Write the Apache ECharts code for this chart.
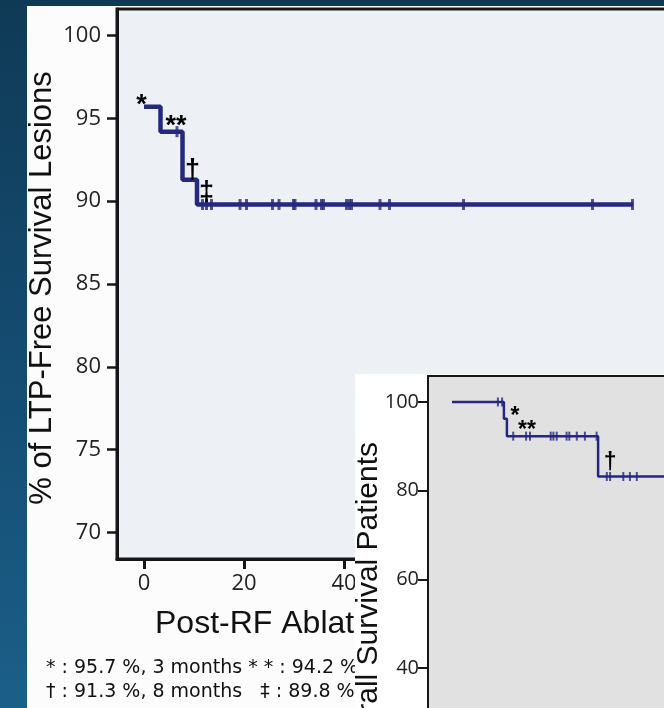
<!DOCTYPE html>
<html><head><meta charset="utf-8">
<script src="https://cdn.jsdelivr.net/npm/echarts@6/dist/echarts.min.js"></script>
<style>
html,body{margin:0;padding:0;width:664px;height:708px;overflow:hidden;background:linear-gradient(to bottom,#0f3a56 0%,#154d73 55%,#1b5f88 100%);}
#panel{position:absolute;left:27px;top:6px;right:0;bottom:0;background:#fcfcfd;}
#main{position:absolute;left:0;top:0;width:664px;height:708px;}
#inset{position:absolute;left:355px;top:374px;width:309px;height:334px;background:#fff;}
</style></head><body>
<div id="panel"></div><div id="main"></div><div id="inset"></div>
<script>
// ---------- Main chart data (months, % LTP-free survival) ----------
const mainSteps = [[0, 95.7], [3.3, 94.2], [7.7, 91.3], [10.6, 89.8], [97.8, 89.8]];
const mainCensored = [[6.6, 94.2], [11.7, 89.8], [12.5, 89.8], [13.5, 89.8], [19.2, 89.8], [20.5, 89.8],
  [25.7, 89.8], [27.0, 89.8], [29.9, 89.8], [30.2, 89.8], [34.4, 89.8], [35.5, 89.8], [35.9, 89.8],
  [40.5, 89.8], [41.1, 89.8], [41.5, 89.8], [47.2, 89.8], [49.1, 89.8], [63.9, 89.8], [89.7, 89.8], [97.7, 89.8]];
const mainNotes = [[-0.5, 96.1, '*'], [6.4, 94.8, '**'], [9.7, 92.05, '†'], [12.5, 90.7, '‡']];
const mainXTicks = [0, 20, 40, 60, 80, 100];
const mainYTicks = [70, 75, 80, 85, 90, 95, 100];
const mainYTitle = '% of LTP-Free Survival Lesions';
const mainXTitle = 'Post-RF Ablation Period (months)';
const footLine1 = '* : 95.7 %, 3 months * * : 94.2 %, 6 months';
const footLine2 = '† : 91.3 %, 8 months   ‡ : 89.8 %, 12 months';

// ---------- Inset chart data (overall survival of patients) ----------
const insetSteps = [[0, 100], [17.3, 96.2], [18.3, 92.3], [48.7, 83.2], [90, 83.2]];
const insetCensored = [[15.3, 100], [16.7, 100], [20.4, 92.3], [24.7, 92.3], [26.0, 92.3], [32.9, 92.3],
  [33.8, 92.3], [34.9, 92.3], [38.2, 92.3], [39.1, 92.3], [41.6, 92.3], [44.3, 92.3], [48.2, 92.3],
  [51.6, 83.2], [52.7, 83.2], [57.1, 83.2], [59.3, 83.2], [61.6, 83.2]];
const insetNotes = [[21, 97.7, '*'], [25, 94.4, '**'], [52.7, 86.9, '†']];
const insetYTicks = [20, 40, 60, 80, 100];
const insetYTitle = '% of Overall Survival Patients';

const NAVY = '#24287f';
const AX = '#161616';
const TICKFONT = '"Open Sans", "Noto Sans", sans-serif';
const FOOTFONT = '"DejaVu Sans", sans-serif';
const TITLEFONT = '"Liberation Sans", Arial, sans-serif';

function noteSeries(notes, size) {
  return {
    type: 'scatter', symbol: 'circle', symbolSize: 1, itemStyle: {color: 'rgba(0,0,0,0)'}, z: 5,
    silent: true,
    data: notes.map(n => ({value: [n[0], n[1]], name: n[2],
      label: {offset: [0, n[2].indexOf('*') >= 0 ? Math.round(size * 0.19) : Math.round(size * 0.12)]}})),
    label: {show: true, position: 'inside', formatter: '{b}', color: '#000', fontSize: size,
      fontWeight: 'bold', fontFamily: TITLEFONT, textBorderWidth: 0, opacity: 1}
  };
}

const main = echarts.init(document.getElementById('main'), null, {renderer: 'canvas'});
main.setOption({
  animation: false,
  backgroundColor: 'transparent',
  grid: {left: 117, top: 9, width: 600, height: 550, show: true, backgroundColor: '#edf0f4',
    borderColor: AX, borderWidth: 3, outerBoundsMode: 'none', containLabel: false},
  xAxis: {type: 'value', min: -5.4, max: 114.6,
    axisLine: {show: true, onZero: false, lineStyle: {color: AX, width: 3}},
    axisTick: {show: true, length: 10, customValues: mainXTicks, lineStyle: {color: AX, width: 3}},
    axisLabel: {customValues: mainXTicks, margin: 14, fontSize: 22, fontFamily: TICKFONT, color: '#222'},
    splitLine: {show: false}},
  yAxis: {type: 'value', min: 68.39, max: 101.61,
    axisLine: {show: true, onZero: false, lineStyle: {color: AX, width: 3}},
    axisTick: {show: true, length: 10, customValues: mainYTicks, lineStyle: {color: AX, width: 2.5}},
    axisLabel: {customValues: mainYTicks, margin: 16, fontSize: 22, fontFamily: TICKFONT, color: '#222'},
    splitLine: {show: false}},
  graphic: [
    {type: 'text', x: 42, y: 288, rotation: Math.PI / 2,
      style: {text: mainYTitle, font: '31px ' + TITLEFONT, fill: '#111', align: 'center', verticalAlign: 'middle',
        textAlign: 'center', textVerticalAlign: 'middle'}},
    {type: 'text', x: 155, y: 624,
      style: {text: mainXTitle, font: '32px ' + TITLEFONT, fill: '#111', align: 'left', verticalAlign: 'middle',
        textAlign: 'left', textVerticalAlign: 'middle'}},
    {type: 'text', x: 46, y: 668,
      style: {text: footLine1, font: '19px ' + FOOTFONT, fill: '#111', align: 'left', verticalAlign: 'middle',
        textAlign: 'left', textVerticalAlign: 'middle'}},
    {type: 'text', x: 46, y: 692,
      style: {text: footLine2, font: '19px ' + FOOTFONT, fill: '#111', align: 'left', verticalAlign: 'middle',
        textAlign: 'left', textVerticalAlign: 'middle'}}
  ],
  series: [
    {type: 'line', step: 'end', data: mainSteps, showSymbol: false, z: 3,
      lineStyle: {color: NAVY, width: 4.5}},
    {type: 'scatter', symbol: 'rect', symbolSize: [3, 11], data: mainCensored, z: 4,
      itemStyle: {color: NAVY}},
    noteSeries(mainNotes, 27)
  ]
});

const inset = echarts.init(document.getElementById('inset'), null, {renderer: 'canvas'});
inset.setOption({
  animation: false,
  backgroundColor: '#ffffff',
  grid: {left: 73, top: 2, width: 400, height: 400, show: true, backgroundColor: '#e1e1e1',
    borderColor: AX, borderWidth: 2, outerBoundsMode: 'none', containLabel: false},
  xAxis: {type: 'value', min: -8, max: 125.33,
    axisLine: {show: true, onZero: false, lineStyle: {color: AX, width: 2}},
    axisTick: {show: false}, axisLabel: {show: false}, splitLine: {show: false}},
  yAxis: {type: 'value', min: 15.67, max: 105.86,
    axisLine: {show: true, onZero: false, lineStyle: {color: AX, width: 2}},
    axisTick: {show: true, length: 10, customValues: insetYTicks, lineStyle: {color: AX, width: 2}},
    axisLabel: {customValues: insetYTicks, margin: 9, fontSize: 20, fontFamily: TICKFONT, color: '#222'},
    splitLine: {show: false}},
  graphic: [
    {type: 'text', x: 14, y: 68, rotation: Math.PI / 2,
      style: {text: insetYTitle, font: '30px ' + TITLEFONT, fill: '#111', align: 'right', verticalAlign: 'middle',
        textAlign: 'right', textVerticalAlign: 'middle'}}
  ],
  series: [
    {type: 'line', step: 'end', data: insetSteps, showSymbol: false, z: 3,
      lineStyle: {color: NAVY, width: 2.5}},
    {type: 'scatter', symbol: 'rect', symbolSize: [2, 9], data: insetCensored, z: 4,
      itemStyle: {color: NAVY}},
    noteSeries(insetNotes, 23)
  ]
});
</script>
</body></html>
